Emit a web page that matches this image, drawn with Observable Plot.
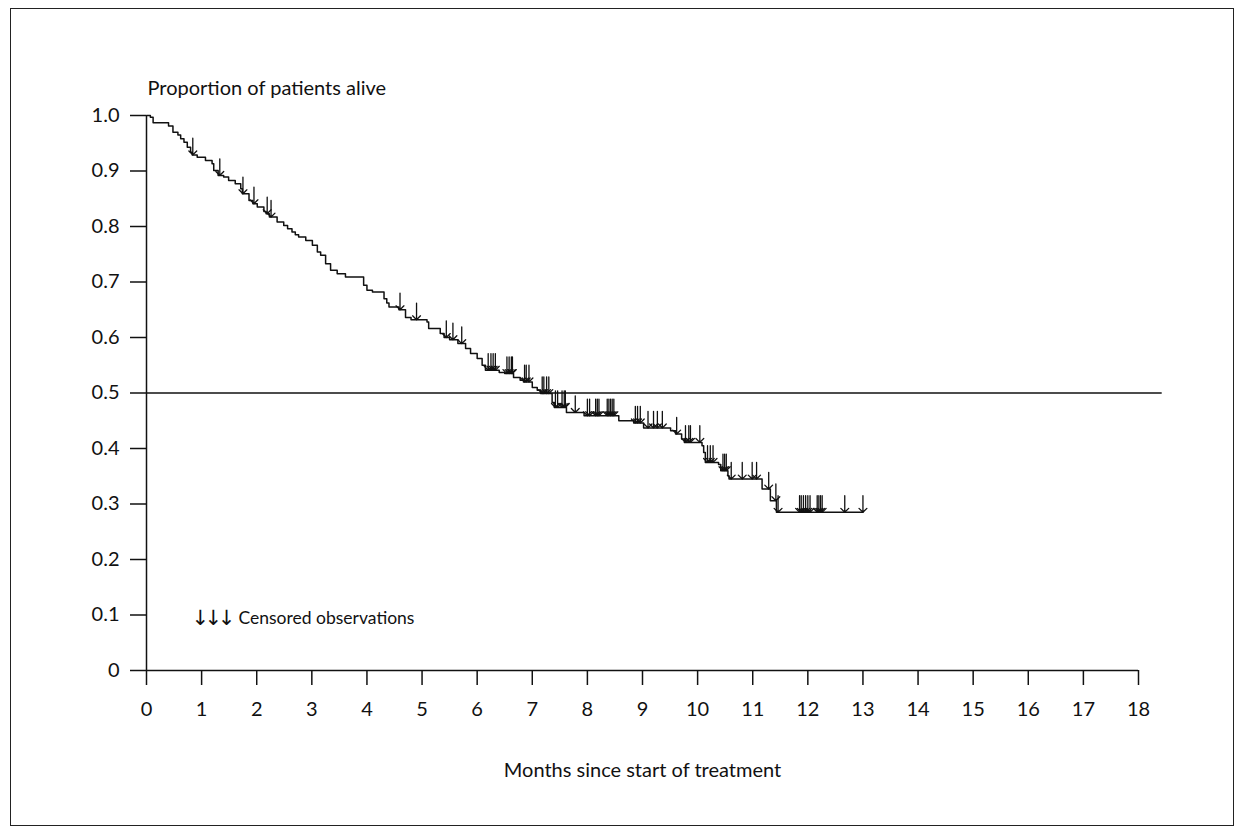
<!DOCTYPE html>
<html><head><meta charset="utf-8">
<script src="https://cdn.jsdelivr.net/npm/d3@7"></script>
<script src="https://cdn.jsdelivr.net/npm/@observablehq/plot@0.6"></script>
<style>
html,body{margin:0;padding:0;background:#fff;}
#wrap{position:relative;width:1244px;height:834px;}
#frame{position:absolute;left:10px;top:8px;width:1224px;height:818px;border:1.5px solid #222;box-sizing:border-box;}
#chart{position:absolute;left:0;top:0;}
</style></head><body>
<div id="wrap"><div id="frame"></div><div id="chart"></div></div>
<script>
// Kaplan–Meier step points: time (months) of each drop and survival after it
const stepTimes = [0, 0.07, 0.12, 0.40, 0.48, 0.57, 0.62, 0.68, 0.74, 0.80, 0.83, 0.92, 1.07, 1.19, 1.22, 1.30, 1.40, 1.49, 1.61, 1.71, 1.74, 1.86, 1.93, 2.01, 2.13, 2.17, 2.23, 2.37, 2.49, 2.56, 2.64, 2.70, 2.76, 2.89, 3.01, 3.10, 3.16, 3.25, 3.34, 3.46, 3.61, 3.94, 4.00, 4.10, 4.31, 4.36, 4.40, 4.58, 4.70, 4.80, 5.09, 5.12, 5.33, 5.40, 5.50, 5.65, 5.79, 5.88, 6.00, 6.09, 6.15, 6.40, 6.50, 6.66, 6.78, 6.84, 7.00, 7.09, 7.15, 7.36, 7.40, 7.62, 7.94, 8.57, 8.84, 9.02, 9.51, 9.60, 9.71, 9.76, 10.08, 10.11, 10.14, 10.38, 10.42, 10.55, 10.57, 11.17, 11.32, 11.43];
const stepSurvival = [1.0, 0.997, 0.987, 0.981, 0.970, 0.965, 0.958, 0.952, 0.943, 0.934, 0.929, 0.925, 0.919, 0.913, 0.901, 0.892, 0.889, 0.883, 0.877, 0.868, 0.859, 0.847, 0.841, 0.835, 0.827, 0.823, 0.817, 0.808, 0.802, 0.796, 0.790, 0.785, 0.781, 0.775, 0.766, 0.754, 0.748, 0.733, 0.721, 0.715, 0.709, 0.694, 0.685, 0.682, 0.670, 0.662, 0.655, 0.650, 0.636, 0.632, 0.628, 0.616, 0.607, 0.600, 0.596, 0.589, 0.580, 0.571, 0.562, 0.550, 0.541, 0.537, 0.535, 0.528, 0.523, 0.520, 0.510, 0.505, 0.499, 0.483, 0.474, 0.465, 0.459, 0.450, 0.446, 0.437, 0.432, 0.426, 0.417, 0.411, 0.405, 0.393, 0.375, 0.371, 0.360, 0.351, 0.345, 0.327, 0.306, 0.285];
const lastFollowUp = 13.0;
const censorTimes = [0.84, 1.33, 1.75, 1.95, 2.19, 2.26, 4.60, 4.90, 5.44, 5.56, 5.72, 6.20, 6.25, 6.29, 6.33, 6.54, 6.58, 6.62, 6.64, 6.86, 6.89, 6.94, 7.18, 7.21, 7.26, 7.30, 7.42, 7.46, 7.54, 7.58, 7.60, 7.78, 8.00, 8.04, 8.15, 8.18, 8.21, 8.36, 8.39, 8.42, 8.45, 8.48, 8.87, 8.91, 8.96, 9.10, 9.20, 9.27, 9.36, 9.62, 9.78, 9.84, 9.87, 10.04, 10.18, 10.23, 10.28, 10.46, 10.49, 10.52, 10.61, 10.81, 10.99, 11.07, 11.29, 11.42, 11.46, 11.85, 11.88, 11.92, 11.96, 12.00, 12.04, 12.17, 12.20, 12.23, 12.26, 12.67, 13.00];
const xTicks = [0, 1, 2, 3, 4, 5, 6, 7, 8, 9, 10, 11, 12, 13, 14, 15, 16, 17, 18];
const yTicks = [0, 0.1, 0.2, 0.3, 0.4, 0.5, 0.6, 0.7, 0.8, 0.9, 1.0];
const medianLine = 0.5;
const yTitle = "Proportion of patients alive";
const xTitle = "Months since start of treatment";
const legendSymbol = "↓↓↓";
const legendText = "Censored observations";

const curve = stepTimes.map((t, i) => ({t, s: stepSurvival[i]}));
curve.push({t: lastFollowUp, s: stepSurvival[stepSurvival.length - 1]});
function survivalAt(t) {
  let s = stepSurvival[0];
  for (let i = 0; i < stepTimes.length; i++) if (stepTimes[i] <= t) s = stepSurvival[i];
  return s;
}
const censored = censorTimes.map(t => ({t, s: survivalAt(t)}));
const ARROW = 0.03; // shaft length in y units

const font = "Lato, 'Open Sans', sans-serif";
const chart = Plot.plot({
  width: 1244,
  height: 834,
  marginLeft: 146,
  marginRight: 106,
  marginTop: 115,
  marginBottom: 164,
  style: {fontFamily: font, fontSize: "20px", background: "transparent", color: "#111", overflow: "visible"},
  x: {domain: [0, 18]},
  y: {domain: [0, 1]},
  marks: [
    Plot.ruleY([medianLine], {x1: 0, x2: 18.43, stroke: "#111", strokeWidth: 1.4}),
    Plot.ruleY([0], {x1: 0, x2: 18, stroke: "#111", strokeWidth: 1.5}),
    Plot.ruleX([0], {y1: 0, y2: 1, stroke: "#111", strokeWidth: 1.5}),
    Plot.axisX({ticks: xTicks, tickSize: 15, tickPadding: 16, tickFormat: d => String(d), label: null, strokeWidth: 1.5, fontSize: 20}),
    Plot.axisY({ticks: yTicks, tickSize: 16, tickPadding: 11, tickFormat: d => d === 0 ? "0" : d.toFixed(1), label: null, strokeWidth: 1.5, fontSize: 20}),
    Plot.line(curve, {x: "t", y: "s", curve: "step-after", stroke: "#111", strokeWidth: 1.5}),
    Plot.arrow(censored, {x1: "t", x2: "t", y1: d => d.s + ARROW, y2: "s", stroke: "#111", strokeWidth: 1.3, headLength: 7, headAngle: 90}),
    Plot.text([yTitle], {text: d => d, frameAnchor: "top-left", textAnchor: "start", lineAnchor: "middle", dx: 1, dy: -27, fontSize: 20}),
    Plot.text([xTitle], {text: d => d, frameAnchor: "bottom", textAnchor: "middle", lineAnchor: "middle", dy: 100, fontSize: 20}),
    Plot.text([legendSymbol], {text: d => d, frameAnchor: "bottom-left", textAnchor: "start", lineAnchor: "middle", dx: 45, dy: -52, fontSize: 21, fill: "#111", fontFamily: "'DejaVu Sans', sans-serif", className: "legend-arrows"}),
    Plot.text([legendText], {text: d => d, frameAnchor: "bottom-left", textAnchor: "start", lineAnchor: "middle", dx: 92, dy: -52, fontSize: 17.5, fill: "#111"})
  ]
});
d3.select(chart).selectAll("g.legend-arrows text").attr("letter-spacing", "-4.5px");
document.getElementById("chart").appendChild(chart);
</script>
</body></html>
